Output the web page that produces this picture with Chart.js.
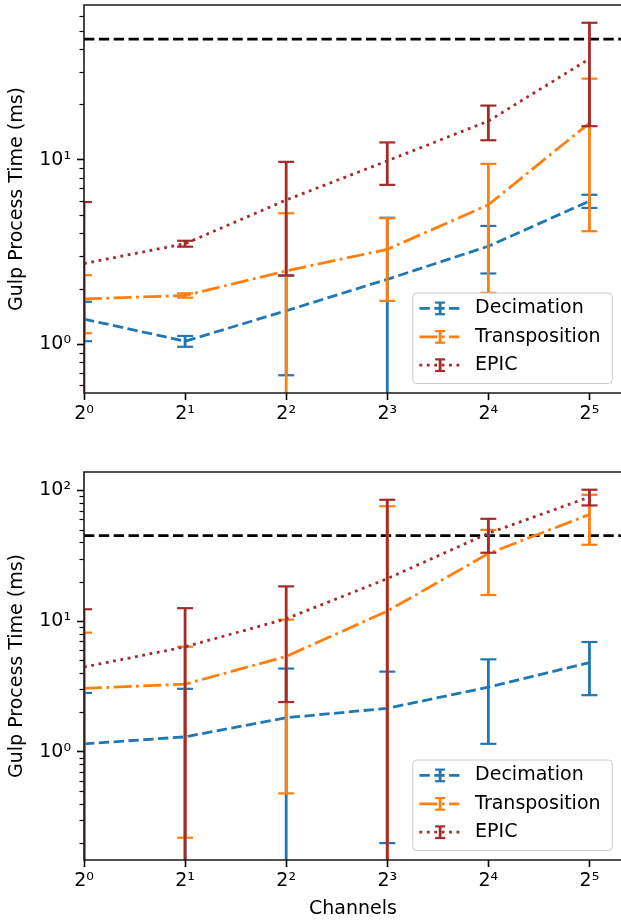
<!DOCTYPE html>
<html>
<head>
<meta charset="utf-8">
<script src="https://cdn.jsdelivr.net/npm/chart.js@4.4.0/dist/chart.umd.min.js"></script>
<style>
  html, body { margin: 0; padding: 0; background: #fff; overflow: hidden; width: 621px; height: 924px; }
  #figure { position: relative; width: 621px; height: 924px; overflow: hidden; }
  canvas { position: absolute; left: 0; }
  #panelA { top: 0; }
  #panelB { top: 440px; }
</style>
</head>
<body>
<div id="figure">
<canvas id="panelA" width="640" height="440"></canvas>
<canvas id="panelB" width="640" height="484"></canvas>
</div>
<script>
// ---- data -------------------------------------------------------------
const channels = [1, 2, 4, 8, 16, 32];
const xTickLabels = ['2⁰', '2¹', '2²', '2³', '2⁴', '2⁵'];
const yTickLabels = ['10⁰', '10¹', '10²'];
const seriesNames = ['Decimation', 'Transposition', 'EPIC'];
const thresholdMs = 45;

// upper panel: mean process time and error (ms)
const decimationA      = [1.37, 1.04, 1.52, 2.25, 3.40, 5.97];
const decimationErrA   = [0.33, 0.07, 0.84, 2.60, 0.98, 0.49];
const transpositionA   = [1.76, 1.84, 2.50, 3.27, 5.70, 15.8];
const transpositionErrA= [0.61, 0.05, 2.63, 1.55, 3.80, 11.7];
const epicA            = [2.74, 3.51, 6.05, 9.86, 16.2, 35.2];
const epicErrA         = [3.16, 0.13, 3.69, 2.55, 3.45, 20.0];

// lower panel: mean process time and error (ms)
const decimationB      = [1.15, 1.30, 1.82, 2.15, 3.12, 4.81];
const decimationErrB   = [1.67, 1.73, 2.51, 1.95, 1.97, 2.10];
const transpositionB   = [3.05, 3.29, 5.36, 11.9, 32.8, 65.3];
const transpositionErrB= [5.10, 3.07, 4.88, 63.6, 17.0, 27.0];
const epicB            = [4.45, 6.34, 10.4, 21.1, 46.9, 88.8];
const epicErrB         = [7.85, 6.20, 8.00, 63.5, 13.6, 12.2];

// axis limits
const xMax = 40;
const yRangeA = [0.545, 68.9];
const yRangeB = [0.1486, 138];

// ---- styling ----------------------------------------------------------
const LW = 2.8;
const colors = ['#1f77b4', '#ff7f0e', '#a52a2a'];
const dashes = [
  [3.7 * LW, 1.6 * LW],
  [6.4 * LW, 1.6 * LW, 1 * LW, 1.6 * LW],
  [1 * LW, 1.65 * LW]
];

Chart.defaults.font.family = "'DejaVu Sans', sans-serif";
Chart.defaults.font.size = 19;
Chart.defaults.color = '#000';

// error bars, drawn right after each series' line
const errorBars = {
  id: 'errorBars',
  afterDatasetDraw(chart, args) {
    const ds = chart.data.datasets[args.index];
    if (!ds.errors) return;
    const xs = chart.scales.x, ys = chart.scales.y, ca = chart.chartArea, ctx = chart.ctx;
    ctx.save();
    ctx.beginPath();
    ctx.rect(ca.left, ca.top, ca.right - ca.left, ca.bottom - ca.top);
    ctx.clip();
    ctx.strokeStyle = ds.borderColor;
    ctx.setLineDash([]);
    ctx.lineCap = 'butt';
    ds.data.forEach((p, i) => {
      const e = ds.errors[i];
      const px = xs.getPixelForValue(p.x);
      const hi = p.y + e, lo = p.y - e;
      const yHi = ys.getPixelForValue(hi);
      const yLo = lo > 0 ? ys.getPixelForValue(lo) : ca.bottom + 20;
      ctx.lineWidth = LW;
      ctx.beginPath(); ctx.moveTo(px, yHi); ctx.lineTo(px, yLo); ctx.stroke();
      ctx.lineWidth = 2.2;
      ctx.beginPath(); ctx.moveTo(px - 8, yHi); ctx.lineTo(px + 8, yHi); ctx.stroke();
      if (lo > 0) { ctx.beginPath(); ctx.moveTo(px - 8, yLo); ctx.lineTo(px + 8, yLo); ctx.stroke(); }
    });
    ctx.restore();
  }
};

// axes spines (left, top, bottom) and minor log ticks on the y axis
const frame = {
  id: 'frame',
  afterDatasetsDraw(chart) {
    const ca = chart.chartArea, ys = chart.scales.y, ctx = chart.ctx;
    ctx.save();
    ctx.strokeStyle = '#000';
    ctx.lineWidth = 1.2;
    for (let k = -2; k <= 2; k++) {
      for (let d = 2; d <= 9; d++) {
        const v = d * Math.pow(10, k);
        if (v < ys.min || v > ys.max) continue;
        const py = Math.round(ys.getPixelForValue(v)) + 0.5;
        ctx.beginPath(); ctx.moveTo(ca.left - 4.5, py); ctx.lineTo(ca.left, py); ctx.stroke();
      }
    }
    ctx.lineWidth = 1.6;
    ctx.strokeStyle = '#1a1a1a';
    ctx.beginPath();
    ctx.moveTo(ca.right + 2, ca.top);
    ctx.lineTo(ca.left, ca.top);
    ctx.lineTo(ca.left, ca.bottom);
    ctx.lineTo(ca.right + 2, ca.bottom);
    ctx.stroke();
    ctx.restore();
  }
};

// boxed legend in the lower right corner of the plot area
const cornerLegend = {
  id: 'cornerLegend',
  afterDraw(chart) {
    const ca = chart.chartArea, ctx = chart.ctx;
    const w = 199.5, h = 90.5;
    const x0 = ca.right - 9.7 - w, y0 = ca.bottom - 9.5 - h;
    ctx.save();
    ctx.beginPath();
    ctx.roundRect(x0, y0, w, h, 4);
    ctx.fillStyle = 'rgba(255,255,255,0.8)';
    ctx.fill();
    ctx.strokeStyle = '#cccccc';
    ctx.lineWidth = 1;
    ctx.stroke();
    const rows = [15.4, 43.9, 72.2];
    chart.data.datasets.filter(d => d.errors).forEach((ds, i) => {
      const cy = y0 + rows[i];
      ctx.strokeStyle = ds.borderColor;
      ctx.lineWidth = LW;
      ctx.lineCap = 'butt';
      ctx.setLineDash(ds.borderDash);
      ctx.beginPath(); ctx.moveTo(x0 + 6.6, cy); ctx.lineTo(x0 + 46.6, cy); ctx.stroke();
      ctx.setLineDash([]);
      const gx = x0 + 27.3;
      ctx.beginPath(); ctx.moveTo(gx, cy - 5.8); ctx.lineTo(gx, cy + 5.8); ctx.stroke();
      ctx.lineWidth = 2.2;
      ctx.beginPath(); ctx.moveTo(gx - 5, cy - 5.8); ctx.lineTo(gx + 5, cy - 5.8); ctx.stroke();
      ctx.beginPath(); ctx.moveTo(gx - 5, cy + 5.8); ctx.lineTo(gx + 5, cy + 5.8); ctx.stroke();
      ctx.fillStyle = '#000';
      ctx.font = "19px 'DejaVu Sans', sans-serif";
      ctx.textBaseline = 'middle';
      ctx.textAlign = 'left';
      ctx.fillText(ds.label, x0 + 62.3, cy);
    });
    ctx.restore();
  }
};

function series(values, errs, idx) {
  return {
    label: seriesNames[idx],
    data: channels.map((c, i) => ({ x: c, y: values[i] })),
    errors: errs,
    borderColor: colors[idx],
    borderWidth: LW,
    borderDash: dashes[idx],
    borderCapStyle: 'butt',
    pointRadius: 0,
    fill: false,
    tension: 0,
    order: 3 - idx
  };
}

function tickGrid() {
  return { drawOnChartArea: false, drawTicks: true, tickLength: 7, tickWidth: 1.6, tickColor: '#000' };
}

function noEdgePadding(s) {
  s.paddingTop = 0; s.paddingBottom = 0; s.paddingLeft = 0; s.paddingRight = 0;
}

function makePanel(id, sets, yRange, padTop, xAxisHeight, showXTitle) {
  const thresholdSet = {
    label: 'threshold',
    data: [{ x: 1, y: thresholdMs }, { x: xMax, y: thresholdMs }],
    borderColor: '#000',
    borderWidth: LW,
    borderDash: [3.7 * LW, 1.6 * LW],
    borderCapStyle: 'butt',
    pointRadius: 0,
    fill: false,
    order: 10
  };
  return new Chart(document.getElementById(id), {
    type: 'line',
    data: { datasets: [...sets, thresholdSet] },
    plugins: [errorBars, frame, cornerLegend],
    options: {
      responsive: false,
      animation: false,
      devicePixelRatio: 1,
      layout: { padding: { left: 0, right: 18, top: padTop, bottom: 0 } },
      plugins: { legend: { display: false }, tooltip: { enabled: false } },
      scales: {
        x: {
          type: 'logarithmic',
          min: 1,
          max: xMax,
          afterBuildTicks: s => { s.ticks = channels.map(v => ({ value: v })); },
          afterFit: s => { s.height = xAxisHeight; noEdgePadding(s); },
          ticks: {
            callback: v => xTickLabels[Math.round(Math.log2(v))],
            padding: 3, maxRotation: 0, autoSkip: false
          },
          grid: tickGrid(),
          border: { display: false },
          title: { display: showXTitle, text: 'Channels', padding: { top: 0, bottom: 4 } }
        },
        y: {
          type: 'logarithmic',
          min: yRange[0],
          max: yRange[1],
          afterBuildTicks: s => {
            s.ticks = [1, 10, 100].filter(v => v >= yRange[0] && v <= yRange[1]).map(v => ({ value: v }));
          },
          afterFit: s => { s.width = 84; noEdgePadding(s); },
          ticks: {
            callback: v => yTickLabels[Math.round(Math.log10(v))],
            padding: 6, autoSkip: false
          },
          grid: tickGrid(),
          border: { display: false },
          title: { display: true, text: 'Gulp Process Time (ms)', padding: { top: 6, bottom: 0 } }
        }
      }
    }
  });
}

makePanel('panelA', [
  series(decimationA, decimationErrA, 0),
  series(transpositionA, transpositionErrA, 1),
  series(epicA, epicErrA, 2)
], yRangeA, 5, 47, false);

makePanel('panelB', [
  series(decimationB, decimationErrB, 0),
  series(transpositionB, transpositionErrB, 1),
  series(epicB, epicErrB, 2)
], yRangeB, 32, 64, true);
</script>
</body>
</html>
